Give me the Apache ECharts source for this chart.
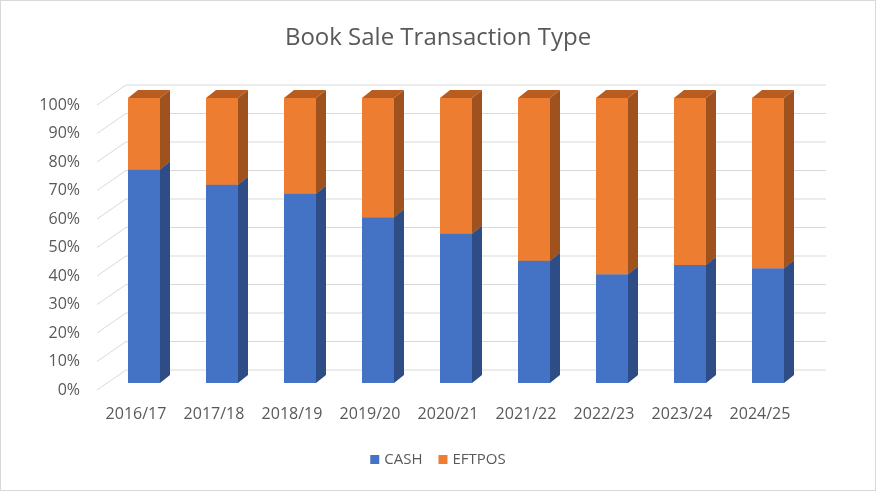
<!DOCTYPE html>
<html>
<head>
<meta charset="utf-8">
<script src="https://cdn.jsdelivr.net/npm/echarts@6/dist/echarts.min.js"></script>
<style>
html,body{margin:0;padding:0;background:#fff;}
#chart{width:876px;height:491px;box-sizing:border-box;border:1px solid #d9d9d9;}
</style>
</head>
<body>
<div id="chart"></div>
<script>
// data (percent of sales)
var years = ['2016/17','2017/18','2018/19','2019/20','2020/21','2021/22','2022/23','2023/24','2024/25'];
var cash = [74.9, 69.6, 66.4, 58.2, 52.4, 42.9, 38.2, 41.4, 40.3];
var eftpos = [25.1, 30.4, 33.6, 41.8, 47.6, 57.1, 61.8, 58.6, 59.7];
var ticks = [0, 10, 20, 30, 40, 50, 60, 70, 80, 90, 100];

var chart = echarts.init(document.getElementById('chart'));

// 3d look, offsets in px
var wallDx = 29, wallDy = -20;
var barDx = 8, barDy = -7, barW = 32, depthX = 10, depthY = -8;

// back wall + diagonal grid lines
function renderWall(params, api){
    var cs = params.coordSys;
    var p = api.coord([0, api.value(1)]);
    var x0 = cs.x, y = p[1];
    return {
        type: 'polyline',
        shape: {points: [[x0, y], [x0 + wallDx, y + wallDy], [cs.x + cs.width + 27, y + wallDy]]},
        style: {stroke: '#d9d9d9', lineWidth: 1, fill: null},
        silent: true
    };
}

function barRenderer(front, side, top){
    return function(params, api){
        var lo = api.coord([api.value(0), api.value(1)]);
        var hi = api.coord([api.value(0), api.value(2)]);
        var xl = lo[0] + barDx - barW / 2, xr = xl + barW;
        var yb = lo[1] + barDy, yt = hi[1] + barDy;
        return {
            type: 'group',
            children: [
                {type: 'rect', shape: {x: xl, y: yt, width: barW, height: yb - yt}, style: {fill: front}},
                {type: 'polygon', shape: {points: [[xr, yb], [xr + depthX, yb + depthY], [xr + depthX, yt + depthY], [xr, yt]]}, style: {fill: side}},
                {type: 'polygon', shape: {points: [[xl, yt], [xr, yt], [xr + depthX, yt + depthY], [xl + depthX, yt + depthY]]}, style: {fill: top}}
            ]
        };
    };
}

var cashData = [], eftData = [];
for (var i = 0; i < years.length; i++) {
    cashData.push([i, 0, cash[i]]);
    eftData.push([i, cash[i], cash[i] + eftpos[i]]);
}

chart.setOption({
    animation: false,
    title: {
        text: 'Book Sale Transaction Type',
        left: 'center', top: 20,
        textStyle: {fontFamily: 'Open Sans', fontSize: 24, fontWeight: 'normal', color: '#595959'}
    },
    legend: {
        bottom: 18, left: 'center',
        itemWidth: 9, itemHeight: 9, itemGap: 16,
        icon: 'rect',
        textStyle: {fontFamily: 'Open Sans', fontSize: 15, color: '#595959'},
        data: [{name: 'CASH', itemStyle: {color: '#4472C4'}}, {name: 'EFTPOS', itemStyle: {color: '#ED7D31'}}]
    },
    grid: {left: 96, right: 76, top: 104, bottom: 100},
    xAxis: {
        type: 'category', data: years,
        axisLine: {show: false}, axisTick: {show: false},
        axisLabel: {interval: 0, fontFamily: 'Open Sans', fontSize: 16, color: '#595959', margin: 16}
    },
    yAxis: {
        type: 'value', min: 0, max: 100, interval: 10,
        axisLine: {show: false}, axisTick: {show: false}, splitLine: {show: false},
        axisLabel: {formatter: '{value}%', fontFamily: 'Open Sans', fontSize: 16, color: '#595959', margin: 17}
    },
    series: [
        {type: 'custom', name: 'wall', renderItem: renderWall, data: ticks.map(function(t){ return [0, t]; }), silent: true, z: 1},
        {type: 'custom', name: 'CASH', renderItem: barRenderer('#4472C4', '#2E4C86', '#3A62A8'), data: cashData, encode: {x: 0, y: [1, 2]}, z: 2},
        {type: 'custom', name: 'EFTPOS', renderItem: barRenderer('#ED7D31', '#A0521E', '#B85C20'), data: eftData, encode: {x: 0, y: [1, 2]}, z: 3}
    ]
});
</script>
</body>
</html>
